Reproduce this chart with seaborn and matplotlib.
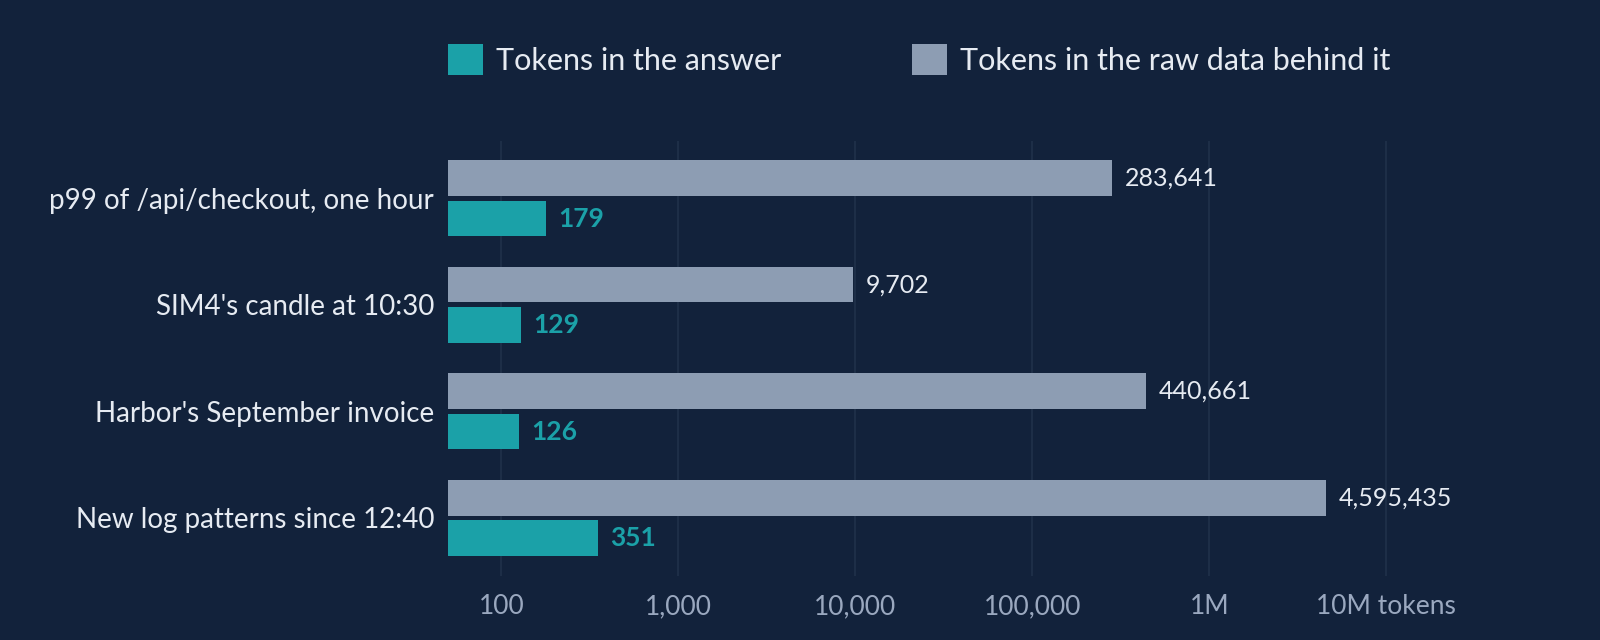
import pandas as pd
import matplotlib.pyplot as plt
import seaborn as sns
from matplotlib.patches import Patch

# === Data === #
questions = [
    "p99 of /api/checkout, one hour",
    "SIM4's candle at 10:30",
    "Harbor's September invoice",
    "New log patterns since 12:40",
]
raw_tokens = [283641, 9702, 440661, 4595435]
answer_tokens = [179, 129, 126, 351]

series_raw = "Tokens in the raw data behind it"
series_answer = "Tokens in the answer"

tick_values = [100, 1000, 10000, 100000, 1000000, 10000000]
tick_labels = ["100", "1,000", "10,000", "100,000", "1M", "10M tokens"]

# === Colours === #
BG = "#12223b"
GRAY = "#8d9db3"
TEAL = "#1ba1a8"
GRID = "#1f3049"
TEXT = "#e6ebf2"
TICK = "#9aa8bf"

df = pd.DataFrame({
    "question": questions * 2,
    "tokens": raw_tokens + answer_tokens,
    "series": [series_raw] * len(questions) + [series_answer] * len(questions),
})

sns.set_theme(style="dark")
plt.rcParams["font.family"] = ["Lato", "DejaVu Sans"]

fig = plt.figure(figsize=(16, 6.4), dpi=100, facecolor=BG)
ax = fig.add_axes([0.28, 0.10, 0.67, 0.68])
ax.set_facecolor(BG)

sns.barplot(data=df, y="question", x="tokens", hue="series",
            hue_order=[series_raw, series_answer],
            palette={series_raw: GRAY, series_answer: TEAL},
            orient="h", width=0.76, gap=0.12,
            saturation=1, legend=False, linewidth=0, ax=ax)
ax.set_xscale("log")

ax.set_xlim(50, 5.7e7)
ax.set_ylim(3.545, -0.54)
ax.set_xticks(tick_values)
ax.set_xticklabels(tick_labels)
ax.xaxis.set_minor_locator(plt.NullLocator())
ax.tick_params(axis="x", length=0, pad=13, labelsize=19, labelcolor=TICK)
ax.tick_params(axis="y", length=0, pad=10, labelsize=20, labelcolor=TEXT)
ax.set_xlabel("")
ax.set_ylabel("")
ax.grid(axis="x", color=GRID, linewidth=1.3)
ax.grid(axis="y", visible=False)
ax.set_axisbelow(True)
for s in ax.spines.values():
    s.set_visible(False)

# === Value labels === #
ax.bar_label(ax.containers[0], labels=[f"{v:,}" for v in raw_tokens],
             padding=9, fontsize=18, color=TEXT)
ax.bar_label(ax.containers[1], labels=[f"{v:,}" for v in answer_tokens],
             padding=9, fontsize=19, color=TEAL, fontweight="bold")

# === Legend === #
handles = [Patch(facecolor=TEAL, edgecolor="none", label=series_answer),
           Patch(facecolor=GRAY, edgecolor="none", label=series_raw)]
leg = fig.legend(handles=handles, loc="center left", bbox_to_anchor=(0.2625, 0.907),
                 ncol=2, frameon=False, fontsize=22, handlelength=1.15,
                 handleheight=1.15, handletextpad=0.45, columnspacing=4.25)
for t in leg.get_texts():
    t.set_color(TEXT)

fig.savefig("out.png", dpi=100, facecolor=BG)
plt.close(fig)
